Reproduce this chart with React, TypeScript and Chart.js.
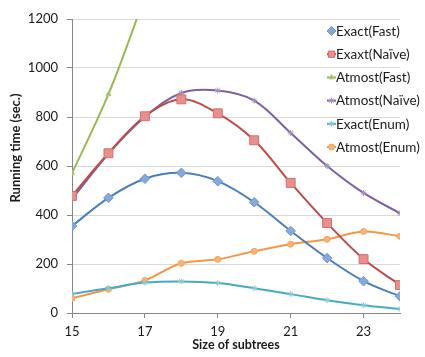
import React, { useEffect, useRef } from "react";
import { Chart, registerables } from "chart.js";
import { drawPoint } from "chart.js/helpers";

Chart.register(...registerables);

// Subtree sizes on the x axis
const subtreeSizes = [15, 16, 17, 18, 19, 20, 21, 22, 23, 24];
const xTickValues = [15, 17, 19, 21, 23];
const yTickValues = [0, 200, 400, 600, 800, 1000, 1200];

// Running times (sec.) per method
const exactFast = [355, 470, 548, 572, 538, 452, 335, 224, 130, 68];
const exactNaive = [478, 652, 803, 872, 815, 705, 531, 367, 220, 114];
const atmostFast = [570, 893, 1290];
const atmostNaive = [465, 650, 800, 898, 908, 867, 735, 600, 490, 407];
const exactEnum = [78, 101, 124, 129, 122, 101, 77, 52, 32, 16];
const atmostEnum = [60, 97, 133, 203, 219, 252, 281, 301, 333, 313];

const seriesNames = [
  "Exact(Fast)",
  "Exaxt(Naïve)",
  "Atmost(Fast)",
  "Atmost(Naïve)",
  "Exact(Enum)",
  "Atmost(Enum)",
];

const yTitle = "Running time (sec.)";
const xTitle = "Size of subtrees";

const FONT = "Lato, 'Open Sans', sans-serif";

const toPoints = (values: number[]) =>
  values.map((v, i) => ({ x: subtreeSizes[i], y: v }));

// Legend drawn inside the plot, top right, plus the rotated y-axis title
const insideLegend = {
  id: "insideLegend",
  afterDraw(chart: any) {
    const ctx = chart.ctx;
    const area = chart.chartArea;
    const x0 = area.right - 73;
    ctx.save();
    chart.data.datasets.forEach((ds: any, i: number) => {
      const y = area.top + 12 + i * 23.2;
      ctx.strokeStyle = ds.borderColor;
      ctx.lineWidth = 2;
      ctx.beginPath();
      ctx.moveTo(x0, y);
      ctx.lineTo(x0 + 9, y);
      ctx.stroke();
      ctx.fillStyle = ds.pointBackgroundColor;
      ctx.strokeStyle = ds.pointBorderColor;
      ctx.lineWidth = ds.pointBorderWidth;
      drawPoint(
        ctx,
        {
          pointStyle: ds.pointStyle,
          radius: Math.min(ds.pointRadius, 4.5),
          rotation: 0,
          borderWidth: ds.pointBorderWidth,
        },
        x0 + 4.5,
        y
      );
      ctx.fillStyle = "#1a1a1a";
      ctx.font = `13.5px ${FONT}`;
      ctx.textAlign = "left";
      ctx.textBaseline = "middle";
      ctx.fillText(seriesNames[i], x0 + 9, y + 0.5);
    });

    // y-axis title
    ctx.translate(16, area.top + 129);
    ctx.rotate(-Math.PI / 2);
    ctx.fillStyle = "#1a1a1a";
    ctx.font = `bold 13px ${FONT}`;
    ctx.textAlign = "center";
    ctx.textBaseline = "middle";
    ctx.fillText(yTitle, 0, 0);
    ctx.restore();
  },
};

export default function App() {
  const canvasRef = useRef<HTMLCanvasElement | null>(null);

  useEffect(() => {
    const canvas = canvasRef.current;
    if (!canvas) return;

    const line = (
      label: string,
      values: number[],
      color: string,
      fill: string,
      pointStyle: string,
      radius: number,
      pointBorder: string,
      pointBorderWidth: number
    ) => ({
      label,
      data: toPoints(values),
      borderColor: color,
      backgroundColor: fill,
      borderWidth: 2,
      tension: 0.35,
      pointStyle,
      pointRadius: radius,
      pointBackgroundColor: fill,
      pointBorderColor: pointBorder,
      pointBorderWidth,
      fill: false,
    });

    const chart = new Chart(canvas, {
      type: "line",
      data: {
        datasets: [
          line(seriesNames[0], exactFast, "#4A7EBB", "#86A9DA", "rectRot", 4.8, "#7096CC", 1),
          line(seriesNames[1], exactNaive, "#BE4B48", "#E8908D", "rect", 6.3, "#D46F6C", 1),
          line(seriesNames[2], atmostFast, "#98B954", "#98B954", "triangle", 3, "#B9CF8A", 1),
          line(seriesNames[3], atmostNaive, "#7D60A0", "#7D60A0", "star", 3, "#A690C2", 1),
          line(seriesNames[4], exactEnum, "#46AAC5", "#46AAC5", "star", 3, "#8FCADB", 1),
          line(seriesNames[5], atmostEnum, "#F59646", "#F8B27A", "circle", 3, "#F6A25E", 1),
        ] as any,
      },
      options: {
        responsive: false,
        animation: false,
        layout: { padding: { top: 19, right: 25, left: 0, bottom: 6 } },
        plugins: {
          legend: { display: false },
          tooltip: { enabled: false },
        },
        scales: {
          x: {
            type: "linear",
            min: 15,
            max: 24,
            afterBuildTicks: (scale: any) => {
              scale.ticks = xTickValues.map((v) => ({ value: v }));
            },
            afterFit: (scale: any) => {
              scale.height = 38;
            },
            grid: {
              drawOnChartArea: false,
              drawTicks: true,
              tickLength: 5,
              color: "#868686",
            },
            border: { color: "#868686", width: 1 },
            ticks: {
              color: "#1a1a1a",
              font: { family: FONT, size: 13 },
              padding: 6,
              maxRotation: 0,
              autoSkip: false,
              callback: (v: any) => String(v),
            },
            title: {
              display: true,
              text: xTitle,
              color: "#1a1a1a",
              font: { family: FONT, size: 12.5, weight: "bold", lineHeight: 1 },
              padding: { top: 0, bottom: 0 },
            },
          },
          y: {
            min: 0,
            max: 1200,
            afterBuildTicks: (scale: any) => {
              scale.ticks = yTickValues.map((v) => ({ value: v }));
            },
            afterFit: (scale: any) => {
              scale.width = 72;
            },
            grid: {
              color: "#D9D9D9",
              tickColor: "#868686",
              tickLength: 5,
            },
            border: { color: "#868686", width: 1 },
            ticks: {
              color: "#1a1a1a",
              font: { family: FONT, size: 13 },
              padding: 9,
              callback: (v: any) => String(v),
            },
          },
        },
      },
      plugins: [insideLegend],
    });

    return () => chart.destroy();
  }, []);

  return (
    <div style={{ position: "absolute", left: 0, top: 0, width: 425, height: 357, background: "#fff" }}>
      <canvas ref={canvasRef} width={425} height={357} />
    </div>
  );
}
